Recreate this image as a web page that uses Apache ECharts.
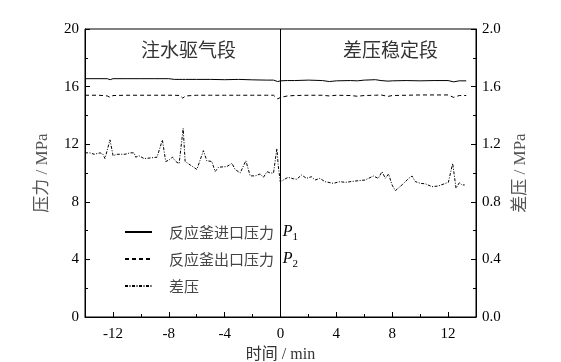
<!DOCTYPE html>
<html><head><meta charset="utf-8">
<script src="https://cdn.jsdelivr.net/npm/echarts@6/dist/echarts.min.js"></script>
<style>html,body{margin:0;padding:0;background:#fff}#c{width:561px;height:362px}</style>
</head><body><div id="c"></div>
<script>
var xTicks = [-12, -8, -4, 0, 4, 8, 12];
var xMinorTicks = [-10, -6, -2, 2, 6, 10];
var seriesNames = ['反应釜进口压力', '反应釜出口压力', '差压'];
var stageNames = ['注水驱气段', '差压稳定段'];

var timeP = [-14, -13, -12.4, -12.2, -12, -11, -10, -9, -8, -7.6, -7.2, -7, -6.8, -6, -5, -4, -3, -2, -1, -0.5, -0.2, 0, 0.5, 1, 2, 3, 3.5, 4, 5, 5.5, 6, 6.8, 7.2, 7.7, 8, 9, 10, 11, 12, 12.4, 12.8, 13.3];
var p1 = [16.55, 16.55, 16.55, 16.48, 16.55, 16.55, 16.55, 16.55, 16.55, 16.5, 16.5, 16.5, 16.5, 16.5, 16.5, 16.48, 16.5, 16.47, 16.45, 16.45, 16.35, 16.4, 16.42, 16.42, 16.45, 16.42, 16.35, 16.4, 16.42, 16.4, 16.45, 16.48, 16.42, 16.38, 16.4, 16.42, 16.4, 16.42, 16.42, 16.33, 16.4, 16.4];
var p2 = [15.4, 15.4, 15.35, 15.25, 15.38, 15.4, 15.4, 15.4, 15.4, 15.4, 15.38, 15.2, 15.35, 15.4, 15.4, 15.4, 15.4, 15.4, 15.4, 15.4, 15.15, 15.25, 15.35, 15.38, 15.4, 15.4, 15.35, 15.4, 15.38, 15.33, 15.38, 15.4, 15.42, 15.32, 15.38, 15.4, 15.42, 15.42, 15.42, 15.25, 15.38, 15.38];

var timeD = [-14, -13.64, -13.35, -12.92, -12.71, -12.57, -12.21, -11.99, -11.71, -11.13, -10.77, -10.49, -10.37, -10.13, -9.77, -9.27, -8.84, -8.46, -8.22, -7.98, -7.74, -7.5, -7.26, -6.97, -6.83, -6.47, -5.99, -5.52, -5.28, -4.92, -4.68, -4.44, -3.84, -3.48, -3.25, -2.89, -2.48, -2.17, -1.81, -1.46, -1.22, -0.97, -0.74, -0.5, -0.26, -0.16, -0.02, 0, 0.55, 0.91, 1.15, 1.51, 1.86, 2.22, 2.47, 2.82, 3.18, 3.78, 4.26, 4.64, 5.33, 6.05, 6.65, 7, 7.27, 7.51, 7.74, 7.99, 8.22, 8.7, 9.18, 9.42, 9.66, 10.02, 10.37, 10.85, 11.31, 11.81, 12.02, 12.33, 12.57, 12.81, 13, 13.19];
var diff = [1.14, 1.14, 1.13, 1.14, 1.13, 1.10, 1.23, 1.12, 1.13, 1.13, 1.14, 1.14, 1.11, 1.12, 1.10, 1.105, 1.11, 1.23, 1.08, 1.09, 1.11, 1.08, 1.065, 1.31, 1.08, 1.056, 1.025, 1.155, 1.085, 1.08, 1.01, 1.04, 1.045, 1.067, 1.025, 1.0, 1.085, 0.98, 0.98, 0.993, 0.97, 1.01, 1.0, 1.0, 1.17, 1.05, 0.94, 0.93, 0.97, 0.96, 0.956, 0.986, 0.963, 0.974, 0.951, 0.963, 0.94, 0.928, 0.94, 0.935, 0.944, 0.951, 0.979, 0.963, 1.009, 0.963, 0.993, 0.917, 0.877, 0.917, 0.963, 0.979, 0.94, 0.928, 0.925, 0.905, 0.91, 0.928, 0.935, 1.067, 0.894, 0.933, 0.917, 0.917];

function pairs(xs, ys) { return xs.map(function (x, i) { return [x, ys[i]]; }); }

var FONT = '"Liberation Serif", "Noto Sans CJK SC", serif';
var chart = echarts.init(document.getElementById('c'), null, {renderer: 'canvas'});

chart.setOption({
  animation: false,
  backgroundColor: '#fff',
  textStyle: {fontFamily: FONT},
  grid: {left: 85, right: 85, top: 29, bottom: 45, show: true, borderColor: '#000', borderWidth: 1,
    outerBoundsMode: 'none', containLabel: false},
  legend: {
    orient: 'vertical', left: 119, top: 216, itemWidth: 27, itemHeight: 12, itemGap: 5,
    itemStyle: {opacity: 0},
    data: seriesNames,
    textStyle: {fontFamily: FONT, fontSize: 15, color: '#444', lineHeight: 22, padding: [0, 0, 0, 12],
      rich: {n: {fontFamily: '"Noto Sans CJK SC"', fontSize: 15, color: '#444', lineHeight: 22, verticalAlign: 'middle'},
             i: {fontFamily: '"Liberation Serif"', fontStyle: 'italic', fontSize: 16, color: '#000', lineHeight: 22, verticalAlign: 'middle', padding: [0, 0, 0, 5]},
             s: {fontFamily: '"Liberation Serif"', fontSize: 11, color: '#000', lineHeight: 22, verticalAlign: 'bottom'}}},
    formatter: function (n) {
      if (n === seriesNames[0]) return '{n|' + n + '} {i|P}{s|1}';
      if (n === seriesNames[1]) return '{n|' + n + '} {i|P}{s|2}';
      return '{n|' + n + '}';
    }
  },
  graphic: [
    {type: 'text', left: 141, top: 40, style: {text: stageNames[0], font: '19px "Noto Sans CJK SC"', fill: '#333'}},
    {type: 'text', left: 343, top: 40, style: {text: stageNames[1], font: '19px "Noto Sans CJK SC"', fill: '#333'}}
  ],
  xAxis: [{
    type: 'value', min: -14, max: 14,
    name: '时间 / min', nameLocation: 'middle', nameGap: 29,
    nameTextStyle: {fontFamily: FONT, fontSize: 16, color: '#333'},
    axisLine: {show: true, onZero: false, lineStyle: {color: '#000', width: 1}},
    axisTick: {show: true, inside: true, length: 5, customValues: xTicks, lineStyle: {color: '#000'}},
    axisLabel: {show: true, customValues: xTicks, color: '#000', fontSize: 15, margin: 10, fontFamily: FONT,
      formatter: function (v) { return String(v); }},
    splitLine: {show: false}
  }, {
    type: 'value', min: -14, max: 14, position: 'bottom',
    axisLine: {show: false, onZero: false},
    axisTick: {show: true, inside: true, length: 3, customValues: xMinorTicks, lineStyle: {color: '#000'}},
    axisLabel: {show: false},
    splitLine: {show: false}
  }],
  yAxis: [{
    type: 'value', min: 0, max: 20, interval: 4, position: 'left',
    name: '压力 / MPa', nameLocation: 'middle', nameGap: 34, nameRotate: 90,
    nameTextStyle: {fontFamily: FONT, fontSize: 17, color: '#555'},
    axisLine: {show: true, onZero: false, lineStyle: {color: '#000'}},
    axisTick: {show: true, inside: true, length: 5, lineStyle: {color: '#000'}},
    minorTick: {show: true, splitNumber: 2, length: 3, lineStyle: {color: '#000'}},
    axisLabel: {color: '#000', fontSize: 15, margin: 6, fontFamily: FONT},
    splitLine: {show: false}
  }, {
    type: 'value', min: 0, max: 2, interval: 0.4, position: 'right',
    name: '差压 / MPa', nameLocation: 'middle', nameGap: 32, nameRotate: 90,
    nameTextStyle: {fontFamily: FONT, fontSize: 17, color: '#555'},
    axisLine: {show: true, onZero: false, lineStyle: {color: '#000'}},
    axisTick: {show: true, inside: true, length: 5, lineStyle: {color: '#000'}},
    minorTick: {show: true, splitNumber: 2, length: 3, lineStyle: {color: '#000'}},
    axisLabel: {color: '#000', fontSize: 15, margin: 6, fontFamily: FONT,
      formatter: function (v) { return v.toFixed(1); }},
    splitLine: {show: false}
  }],
  series: [{
    name: seriesNames[0], type: 'line', xAxisIndex: 0, yAxisIndex: 0, data: pairs(timeP, p1),
    symbol: 'none', lineStyle: {color: '#000', width: 1, type: 'solid'}, itemStyle: {color: '#000'},
    markLine: {silent: true, symbol: 'none', label: {show: false},
      lineStyle: {color: '#000', width: 1, type: 'solid'}, data: [{xAxis: 0}]}
  }, {
    name: seriesNames[1], type: 'line', xAxisIndex: 0, yAxisIndex: 0, data: pairs(timeP, p2),
    symbol: 'none', lineStyle: {color: '#000', width: 1, type: [4, 3]}, itemStyle: {color: '#000'}
  }, {
    name: seriesNames[2], type: 'line', xAxisIndex: 0, yAxisIndex: 1, data: pairs(timeD, diff),
    symbol: 'none', lineStyle: {color: '#000', width: 1, type: [3, 1.5, 1, 1.5]}, itemStyle: {color: '#000'}
  }]
});
</script></body></html>
